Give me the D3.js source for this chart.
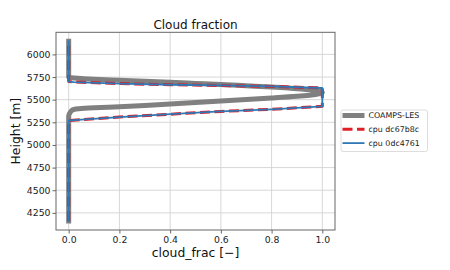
<!DOCTYPE html>
<html>
<head>
<meta charset="utf-8">
<script src="https://cdn.jsdelivr.net/npm/d3@7"></script>
<style>
  body { margin: 0; background: #fff; }
  text { font-family: "DejaVu Sans", sans-serif; }
</style>
</head>
<body>
<div id="chart"></div>
<script>
// data
const coampsHeight = [4160, 5320, 5345, 5365, 5380, 5392, 5400, 5410, 5422, 5436, 5452, 5468, 5485, 5501, 5518, 5537, 5550, 5568, 5580, 5594, 5607, 5622, 5640, 5654, 5668, 5680, 5692, 5703, 5715, 5724, 5732, 5740, 5750, 6145];
const coampsCf     = [0, 0, 0.003, 0.007, 0.012, 0.02, 0.04, 0.1, 0.2, 0.3, 0.4, 0.5, 0.6, 0.7, 0.8, 0.9, 0.95, 0.99, 1.0, 0.99, 0.96, 0.9, 0.8, 0.7, 0.6, 0.5, 0.4, 0.3, 0.2, 0.12, 0.06, 0.02, 0, 0];

const clubbHeight = [4160, 5270, 5280, 5308, 5340, 5370, 5394, 5427, 5629, 5647, 5657, 5665, 5678, 5695, 5700, 6145];
const dc67Cf      = [0, 0, 0.05, 0.2, 0.4, 0.6, 0.8, 1.0, 1.0, 0.8, 0.6, 0.4, 0.2, 0.02, 0, 0];
const odc47Cf     = [0, 0, 0.05, 0.2, 0.4, 0.6, 0.8, 1.0, 1.0, 0.8, 0.6, 0.4, 0.2, 0.02, 0, 0];

const xTicks = [0, 0.2, 0.4, 0.6, 0.8, 1.0];
const yTicks = [4250, 4500, 4750, 5000, 5250, 5500, 5750, 6000];
const seriesNames = ["COAMPS-LES", "cpu dc67b8c", "cpu 0dc4761"];

const svgWidth = 450, svgHeight = 270;
const margin = {top: 32.3, left: 56, bottom: 40, right: 115};
const width = svgWidth - margin.left - margin.right;
const height = svgHeight - margin.top - margin.bottom;

const svg = d3.select("#chart").append("svg")
  .attr("width", svgWidth)
  .attr("height", svgHeight);

const g = svg.append("g")
  .attr("transform", "translate(" + margin.left + "," + margin.top + ")");

// matplotlib-like 5% padding
const pad = (lo, hi) => { const r = hi - lo; return [lo - 0.05 * r, hi + 0.05 * r]; };
const xScale = d3.scaleLinear()
  .domain(pad(0, 1))
  .range([0, width]);
const yExt = d3.extent(coampsHeight.concat(clubbHeight));
const yScale = d3.scaleLinear()
  .domain(pad(yExt[0], yExt[1]))
  .range([height, 0]);

// grid
g.append("g").selectAll("line").data(xTicks).enter().append("line")
  .attr("x1", d => xScale(d)).attr("x2", d => xScale(d))
  .attr("y1", 0).attr("y2", height)
  .attr("stroke", "#d3d3d3").attr("stroke-width", 0.9);
g.append("g").selectAll("line").data(yTicks).enter().append("line")
  .attr("y1", d => yScale(d)).attr("y2", d => yScale(d))
  .attr("x1", 0).attr("x2", width)
  .attr("stroke", "#d3d3d3").attr("stroke-width", 0.9);

// lines
const line = d3.line()
  .curve(d3.curveMonotoneY)
  .x(d => xScale(d[1]))
  .y(d => yScale(d[0]));
const straight = d3.line()
  .x(d => xScale(d[1]))
  .y(d => yScale(d[0]));

g.append("path")
  .datum(d3.zip(coampsHeight, coampsCf))
  .attr("d", line)
  .attr("fill", "none")
  .attr("stroke", "#808080")
  .attr("stroke-width", 5)
  .attr("stroke-linecap", "square")
  .attr("stroke-linejoin", "round");

g.append("path")
  .datum(d3.zip(clubbHeight, dc67Cf))
  .attr("d", straight)
  .attr("fill", "none")
  .attr("stroke", "#df1f26")
  .attr("stroke-width", 3)
  .attr("stroke-dasharray", "10,4.5")
  .attr("stroke-linejoin", "round");

g.append("path")
  .datum(d3.zip(clubbHeight, odc47Cf))
  .attr("d", straight)
  .attr("fill", "none")
  .attr("stroke", "#2f78b5")
  .attr("stroke-width", 1.8)
  .attr("stroke-linecap", "square")
  .attr("stroke-linejoin", "round");

// axes
const xAxis = g.append("g")
  .attr("transform", "translate(0," + height + ")")
  .call(d3.axisBottom(xScale).tickValues(xTicks).tickFormat(d3.format(".1f")).tickSizeOuter(0).tickSize(3.5).tickPadding(3));
const yAxis = g.append("g")
  .call(d3.axisLeft(yScale).tickValues(yTicks).tickFormat(d3.format("d")).tickSizeOuter(0).tickSize(3.5).tickPadding(2));
[xAxis, yAxis].forEach(a => {
  a.select(".domain").remove();
  a.selectAll(".tick line").attr("stroke", "#555").attr("stroke-width", 0.9);
  a.selectAll(".tick text").attr("fill", "#222").style("font-size", "9.3px").style("font-family", "DejaVu Sans");
});

// frame
g.append("rect")
  .attr("width", width).attr("height", height)
  .attr("fill", "none")
  .attr("stroke", "#666").attr("stroke-width", 1);

// title and labels
svg.append("text")
  .attr("x", margin.left + width / 2).attr("y", 28.5)
  .attr("text-anchor", "middle")
  .style("font-size", "12px").attr("fill", "#111")
  .text("Cloud fraction");
svg.append("text")
  .attr("x", margin.left + width / 2).attr("y", 257)
  .attr("text-anchor", "middle")
  .style("font-size", "12.4px").attr("fill", "#111")
  .text("cloud_frac [\u2212]");
svg.append("text")
  .attr("transform", "translate(19.5," + (margin.top + height / 2) + ") rotate(-90)")
  .attr("text-anchor", "middle")
  .style("font-size", "12.4px").attr("fill", "#111")
  .text("Height [m]");

// legend
const legend = svg.append("g").attr("transform", "translate(341,110)");
legend.append("rect")
  .attr("width", 86.5).attr("height", 41.5).attr("rx", 2)
  .attr("fill", "#fff").attr("stroke", "#d9d9d9").attr("stroke-width", 0.9);
const legStyles = [
  {stroke: "#808080", w: 5, dash: null},
  {stroke: "#df1f26", w: 3, dash: "10,4.5"},
  {stroke: "#2f78b5", w: 1.8, dash: null}
];
const rows = legend.selectAll("g.row").data(seriesNames).enter().append("g")
  .attr("class", "row")
  .attr("transform", (d, i) => "translate(0," + (5.5 + i * 13.8) + ")");
rows.append("line")
  .attr("x1", 1.5).attr("x2", 23.5)
  .attr("stroke", (d, i) => legStyles[i].stroke)
  .attr("stroke-width", (d, i) => legStyles[i].w)
  .attr("stroke-dasharray", (d, i) => legStyles[i].dash);
rows.append("text")
  .attr("x", 27.5).attr("y", 2.9)
  .style("font-size", "7.9px").attr("fill", "#222")
  .text(d => d);
</script>
</body>
</html>
